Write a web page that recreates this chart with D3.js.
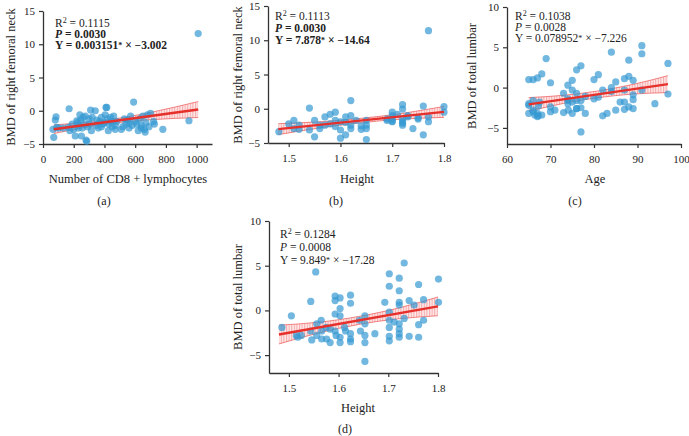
<!DOCTYPE html>
<html><head><meta charset="utf-8">
<script src="https://cdn.jsdelivr.net/npm/d3@7"></script>
<style>body{margin:0;background:#fff}svg{display:block}text{font-family:"Liberation Serif","Times New Roman",serif;fill:#222}</style>
</head><body><svg id="c" width="689" height="436"></svg>
<script>
// ---------- DATA ----------
const cd8X = [65,70,80,85,90,100,170,165,175,190,200,210,220,225,230,240,245,250,255,260,270,275,280,285,290,300,305,310,315,320,340,345,350,360,370,380,390,400,405,410,415,420,425,430,440,445,450,460,470,480,510,520,530,540,550,560,570,580,590,600,610,620,630,640,650,660,665,670,680,690,700,720,725,780,950,1010,130,230,380,470,560,640];
const femA = [-2.8,-4.0,-1.4,-0.9,-2.5,-2.6,0.3,-2.5,-3.0,-2.0,-2.8,-3.8,-1.5,-1.8,-2.2,-0.6,-1.4,-3.8,-2.6,-1.0,-2.0,-0.8,-4.4,-4.6,-2.4,-1.2,-2.0,0.1,-3.0,-1.0,0.0,-2.2,-1.4,-2.6,-1.6,-1.0,-2.0,-1.8,-0.6,0.5,0.5,-1.2,-3.0,-2.0,-1.0,-1.6,-2.4,-0.8,-2.2,-1.6,-2.8,-2.4,-1.2,-2.0,-1.4,-1.8,-0.8,-2.2,1.3,-1.6,-2.0,-3.0,-1.2,-2.6,-0.8,-2.8,-3.2,-1.8,-0.6,-2.4,-0.4,-1.6,-2.0,-2.8,-1.5,11.6,-2.6,-2.6,-2.4,-2.8,-2.6,-2.2];
const heightB = [1.481,1.50,1.51,1.51,1.52,1.54,1.54,1.55,1.55,1.56,1.56,1.57,1.57,1.58,1.59,1.59,1.59,1.60,1.60,1.60,1.61,1.61,1.62,1.62,1.62,1.62,1.63,1.64,1.64,1.65,1.65,1.65,1.65,1.69,1.69,1.70,1.70,1.70,1.70,1.71,1.72,1.72,1.72,1.72,1.72,1.73,1.73,1.74,1.75,1.76,1.76,1.77,1.77,1.77,1.80,1.80,1.52,1.58,1.61,1.70,1.72,1.75];
const femB = [-3.35,-2.2,-2.9,-1.7,-2.4,0.1,-3.1,-1.7,-4.1,-2.4,-2.9,-1.2,-2.4,-0.8,-1.7,-0.5,-2.6,-1.9,-3.1,-4.3,-1.2,-3.8,1.2,-1.0,-2.4,-2.9,-1.7,-2.5,-3.0,-1.7,-2.4,-4.5,-2.9,-1.5,-1.7,-0.5,-1.5,-1.9,-1.0,-0.8,-1.5,0.6,-0.05,-2.4,-1.9,-1.2,-1.0,-2.9,-1.5,0.4,-3.8,-1.2,11.4,-1.9,0.3,-0.5,-3.0,-2.2,-2.0,-1.8,-2.1,-1.3];
const ageC = [65,65,65,66,66,66,66.4,67,67.2,67,67.2,67.5,68,68,69,70,70,70,71,73,73,74,74,74,74.1,75,75,75,75,76,76,76,76,77,77,77,77,78,78,80,80,81,81,82,82,83,84,84,84,85,85,86,87,87,87,87,88,88,88,89,89,89,89,91,91,91,94,97,97,65,66,67,74,76];
const lumC = [1.0,-2.2,-3.2,1.0,-1.6,-2.8,-3.4,1.2,-2.3,-3.2,-3.5,-1.8,1.7,-3.4,3.6,0.6,-2.4,-3.0,-2.8,-0.7,-3.1,0.3,-1.4,-2.0,-2.8,0.9,-0.3,-1.8,-3.2,2.2,-0.7,-1.6,-2.6,2.7,-1.6,-2.5,-5.5,-1.1,-3.2,1.0,-1.4,1.6,-1.2,-0.3,-3.5,-3.2,4.4,0.0,-0.5,0.7,-2.8,-1.8,1.1,-0.3,-1.8,-2.7,3.4,1.4,-2.4,0.9,-0.9,-1.5,-2.6,5.2,4.2,-0.3,-2.0,3.0,-0.8,-2.0,-3.0,-3.6,-1.6,-2.6];
const heightD = [1.486,1.505,1.515,1.518,1.525,1.544,1.544,1.546,1.554,1.556,1.556,1.565,1.566,1.566,1.575,1.576,1.583,1.583,1.593,1.593,1.593,1.593,1.595,1.603,1.603,1.603,1.603,1.603,1.612,1.614,1.624,1.624,1.624,1.624,1.624,1.642,1.644,1.653,1.653,1.653,1.653,1.653,1.673,1.693,1.702,1.702,1.702,1.702,1.702,1.702,1.702,1.712,1.722,1.722,1.722,1.722,1.722,1.722,1.722,1.722,1.732,1.732,1.742,1.742,1.752,1.761,1.761,1.761,1.771,1.771,1.801,1.801];
const lumD = [-1.9,-0.6,-2.8,-3.0,-2.8,1.0,-2.3,-3.3,4.3,-1.5,-2.8,-1.1,-2.3,-3.2,-1.9,-3.2,-2.1,-3.6,1.6,1.1,-0.4,-2.3,-2.8,1.4,0.2,-0.6,-3.0,-3.6,-1.9,-2.3,1.7,0.8,-2.6,-3.2,-3.5,-1.1,-2.3,-0.6,-1.5,-2.8,-3.6,-5.7,-2.6,0.9,4.1,2.7,-0.2,-1.1,-1.9,-2.9,-3.4,-1.3,3.6,2.2,0.9,0.6,-1.5,-2.1,-2.6,-3.0,5.3,-0.9,1.1,-2.9,0.6,2.9,-1.6,-3.0,1.2,-1.1,3.5,0.9];

// regression line endpoints and confidence band
const lineA = {x:[70,1010], y:[-2.78,0.18]};
const bandA = {x:[70,250,420,700,1010], lo:[-3.43,-2.61,-1.98,-1.35,-1.02], hi:[-2.13,-1.81,-1.38,-0.25,1.38]};
const lineB = {x:[1.48,1.80], y:[-2.98,-0.46]};
const bandB = {x:[1.48,1.56,1.64,1.72,1.80], lo:[-3.78,-2.80,-2.04,-1.51,-1.26], hi:[-2.18,-1.90,-1.40,-0.67,0.34]};
const lineC = {x:[65,97], y:[-2.09,0.43]};
const bandC = {x:[65,73,81,89,97], lo:[-2.94,-1.96,-1.25,-0.80,-0.62], hi:[-1.24,-0.96,-0.41,0.40,1.48]};
const lineD = {x:[1.48,1.80], y:[-2.70,0.45]};
const bandD = {x:[1.48,1.56,1.64,1.72,1.80], lo:[-3.75,-2.52,-1.58,-0.94,-0.60], hi:[-1.65,-1.32,-0.68,0.26,1.50]};

const ticksCD8 = [0,200,400,600,800,1000];
const ticksHeight = [1.5,1.6,1.7,1.8];
const ticksAge = [60,70,80,90,100];
const ticksY15 = [-5,0,5,10,15];
const ticksY10 = [-5,0,5,10];

const statsA = ["0.1115","0.0030","0.003151","−3.002"];
const statsB = ["0.1113","0.0030","7.878","−14.64"];
const statsC = ["0.1038","0.0028","0.078952","−7.226"];
const statsD = ["0.1284","0.0008","9.849","−17.28"];

// ---------- DRAW ----------
const svg = d3.select("#c");
const defs = svg.append("defs");
const pat = defs.append("pattern").attr("id","hatch").attr("patternUnits","userSpaceOnUse")
  .attr("width",2.6).attr("height",10);
pat.append("rect").attr("width",2.6).attr("height",10).attr("fill","rgba(255,200,200,0.4)");
pat.append("line").attr("x1",0.6).attr("x2",0.6).attr("y1",0).attr("y2",10)
  .attr("stroke","rgba(230,60,60,0.6)").attr("stroke-width",0.7);

function panel(cfg){
  const g = svg.append("g");
  const x = d3.scaleLinear().domain(cfg.xd).range(cfg.xr);
  const y = d3.scaleLinear().domain(cfg.yd).range(cfg.yr);
  const ax = g.append("g").attr("transform",`translate(0,${cfg.yr[0]})`)
    .call(d3.axisBottom(x).tickValues(cfg.xt).tickSize(4).tickSizeOuter(0).tickFormat(cfg.xf||d3.format("")));
  const ay = g.append("g").attr("transform",`translate(${cfg.xr[0]},0)`)
    .call(d3.axisLeft(y).tickValues(cfg.yt).tickSize(4).tickSizeOuter(0).tickFormat(d=>d<0?"−"+Math.abs(d):d));
  [ax,ay].forEach(a=>{
    a.select(".domain").attr("stroke","#333").attr("stroke-width",1.3);
    a.selectAll(".tick line").attr("stroke","#333").attr("stroke-width",1.2);
    a.selectAll(".tick text").attr("font-family","Liberation Serif, serif").attr("font-size",11).attr("fill","#222");
  });
  ax.selectAll(".tick text").attr("dy","1.05em");
  ay.selectAll(".tick text").attr("dx","-1");
  const pts = cfg.band.x.map((v,i)=>({x:v,lo:cfg.band.lo[i],hi:cfg.band.hi[i]}));
  const area = d3.area().x(d=>x(d.x)).y0(d=>y(d.lo)).y1(d=>y(d.hi)).curve(d3.curveNatural);
  g.append("path").datum(pts).attr("d",area).attr("fill","url(#hatch)");
  const edge = k=>d3.line().x(d=>x(d.x)).y(d=>y(d[k])).curve(d3.curveNatural);
  ["lo","hi"].forEach(k=>g.append("path").datum(pts).attr("d",edge(k)).attr("fill","none")
     .attr("stroke","rgba(235,70,70,0.8)").attr("stroke-width",0.8));
  g.append("g").selectAll("circle").data(cfg.px.map((v,i)=>[v,cfg.py[i]])).join("circle")
    .attr("cx",d=>x(d[0])).attr("cy",d=>y(d[1])).attr("r",3.6)
    .attr("fill","#3598d2").attr("fill-opacity",0.7);
  g.append("line").attr("x1",x(cfg.line.x[0])).attr("x2",x(cfg.line.x[1]))
    .attr("y1",y(cfg.line.y[0])).attr("y2",y(cfg.line.y[1]))
    .attr("stroke","#e5302b").attr("stroke-width",2.4);
  const s = cfg.stats, fs = 11.5;
  const t1 = g.append("text").attr("x",cfg.tx).attr("y",cfg.ty[0]).attr("font-size",fs);
  t1.append("tspan").text("R");
  t1.append("tspan").text("2").attr("font-size",8).attr("dy",-4.5);
  t1.append("tspan").text(" = "+s[0]).attr("dy",4.5);
  const t2 = g.append("text").attr("x",cfg.tx).attr("y",cfg.ty[1]).attr("font-size",fs).attr("font-weight",cfg.bold?"bold":"normal");
  t2.append("tspan").text("P").attr("font-style","italic");
  t2.append("tspan").text(" = "+s[1]);
  const t3 = g.append("text").attr("x",cfg.tx).attr("y",cfg.ty[2]).attr("font-size",fs).attr("font-weight",cfg.bold?"bold":"normal");
  t3.append("tspan").text("Y = "+s[2]);
  t3.append("tspan").text("*").attr("font-size",8).attr("dy",-1);
  t3.append("tspan").text(" × "+s[3]).attr("dy",1);
  g.append("text").attr("x",cfg.xl[0]).attr("y",cfg.xl[1]).attr("text-anchor","middle").attr("font-size",12.5).text(cfg.xlab);
  g.append("text").attr("transform",`translate(${cfg.yl[0]},${cfg.yl[1]}) rotate(-90)`).attr("text-anchor","middle").attr("font-size",12.5).text(cfg.ylab);
  g.append("text").attr("x",cfg.pl[0]).attr("y",cfg.pl[1]).attr("text-anchor","middle").attr("font-size",12).text(cfg.plab);
}

panel({xd:[0,1100],xr:[43,212],yd:[-5,15],yr:[144,11],xt:ticksCD8,yt:ticksY15,
  px:cd8X,py:femA,line:lineA,band:bandA,stats:statsA,bold:true,tx:55,ty:[27,38,49],
  xlab:"Number of CD8 + lymphocytes",xl:[128,183],ylab:"BMD of right femoral neck",yl:[15,77],plab:"(a)",pl:[104,205]});
panel({xd:[1.46,1.8],xr:[268,444],yd:[-5,15],yr:[143,6],xt:ticksHeight,yt:ticksY15,xf:d3.format(".1f"),
  px:heightB,py:femB,line:lineB,band:bandB,stats:statsB,bold:true,tx:275,ty:[20,32,44],
  xlab:"Height",xl:[357,183],ylab:"BMD of right femoral neck",yl:[242,75],plab:"(b)",pl:[336,205]});
panel({xd:[60,100],xr:[507,681],yd:[-7,10],yr:[144,7],xt:ticksAge,yt:ticksY10,
  px:ageC,py:lumC,line:lineC,band:bandC,stats:statsC,bold:false,tx:515,ty:[20,31,42],
  xlab:"Age",xl:[595,183],ylab:"BMD of total lumbar",yl:[476,76],plab:"(c)",pl:[575,205]});
panel({xd:[1.46,1.8],xr:[269,438],yd:[-7,10],yr:[373,221],xt:ticksHeight,yt:ticksY10,xf:d3.format(".1f"),
  px:heightD,py:lumD,line:lineD,band:bandD,stats:statsD,bold:false,tx:280,ty:[238,251,264],
  xlab:"Height",xl:[358,412],ylab:"BMD of total lumbar",yl:[242,297],plab:"(d)",pl:[345,433]});
</script></body></html>
